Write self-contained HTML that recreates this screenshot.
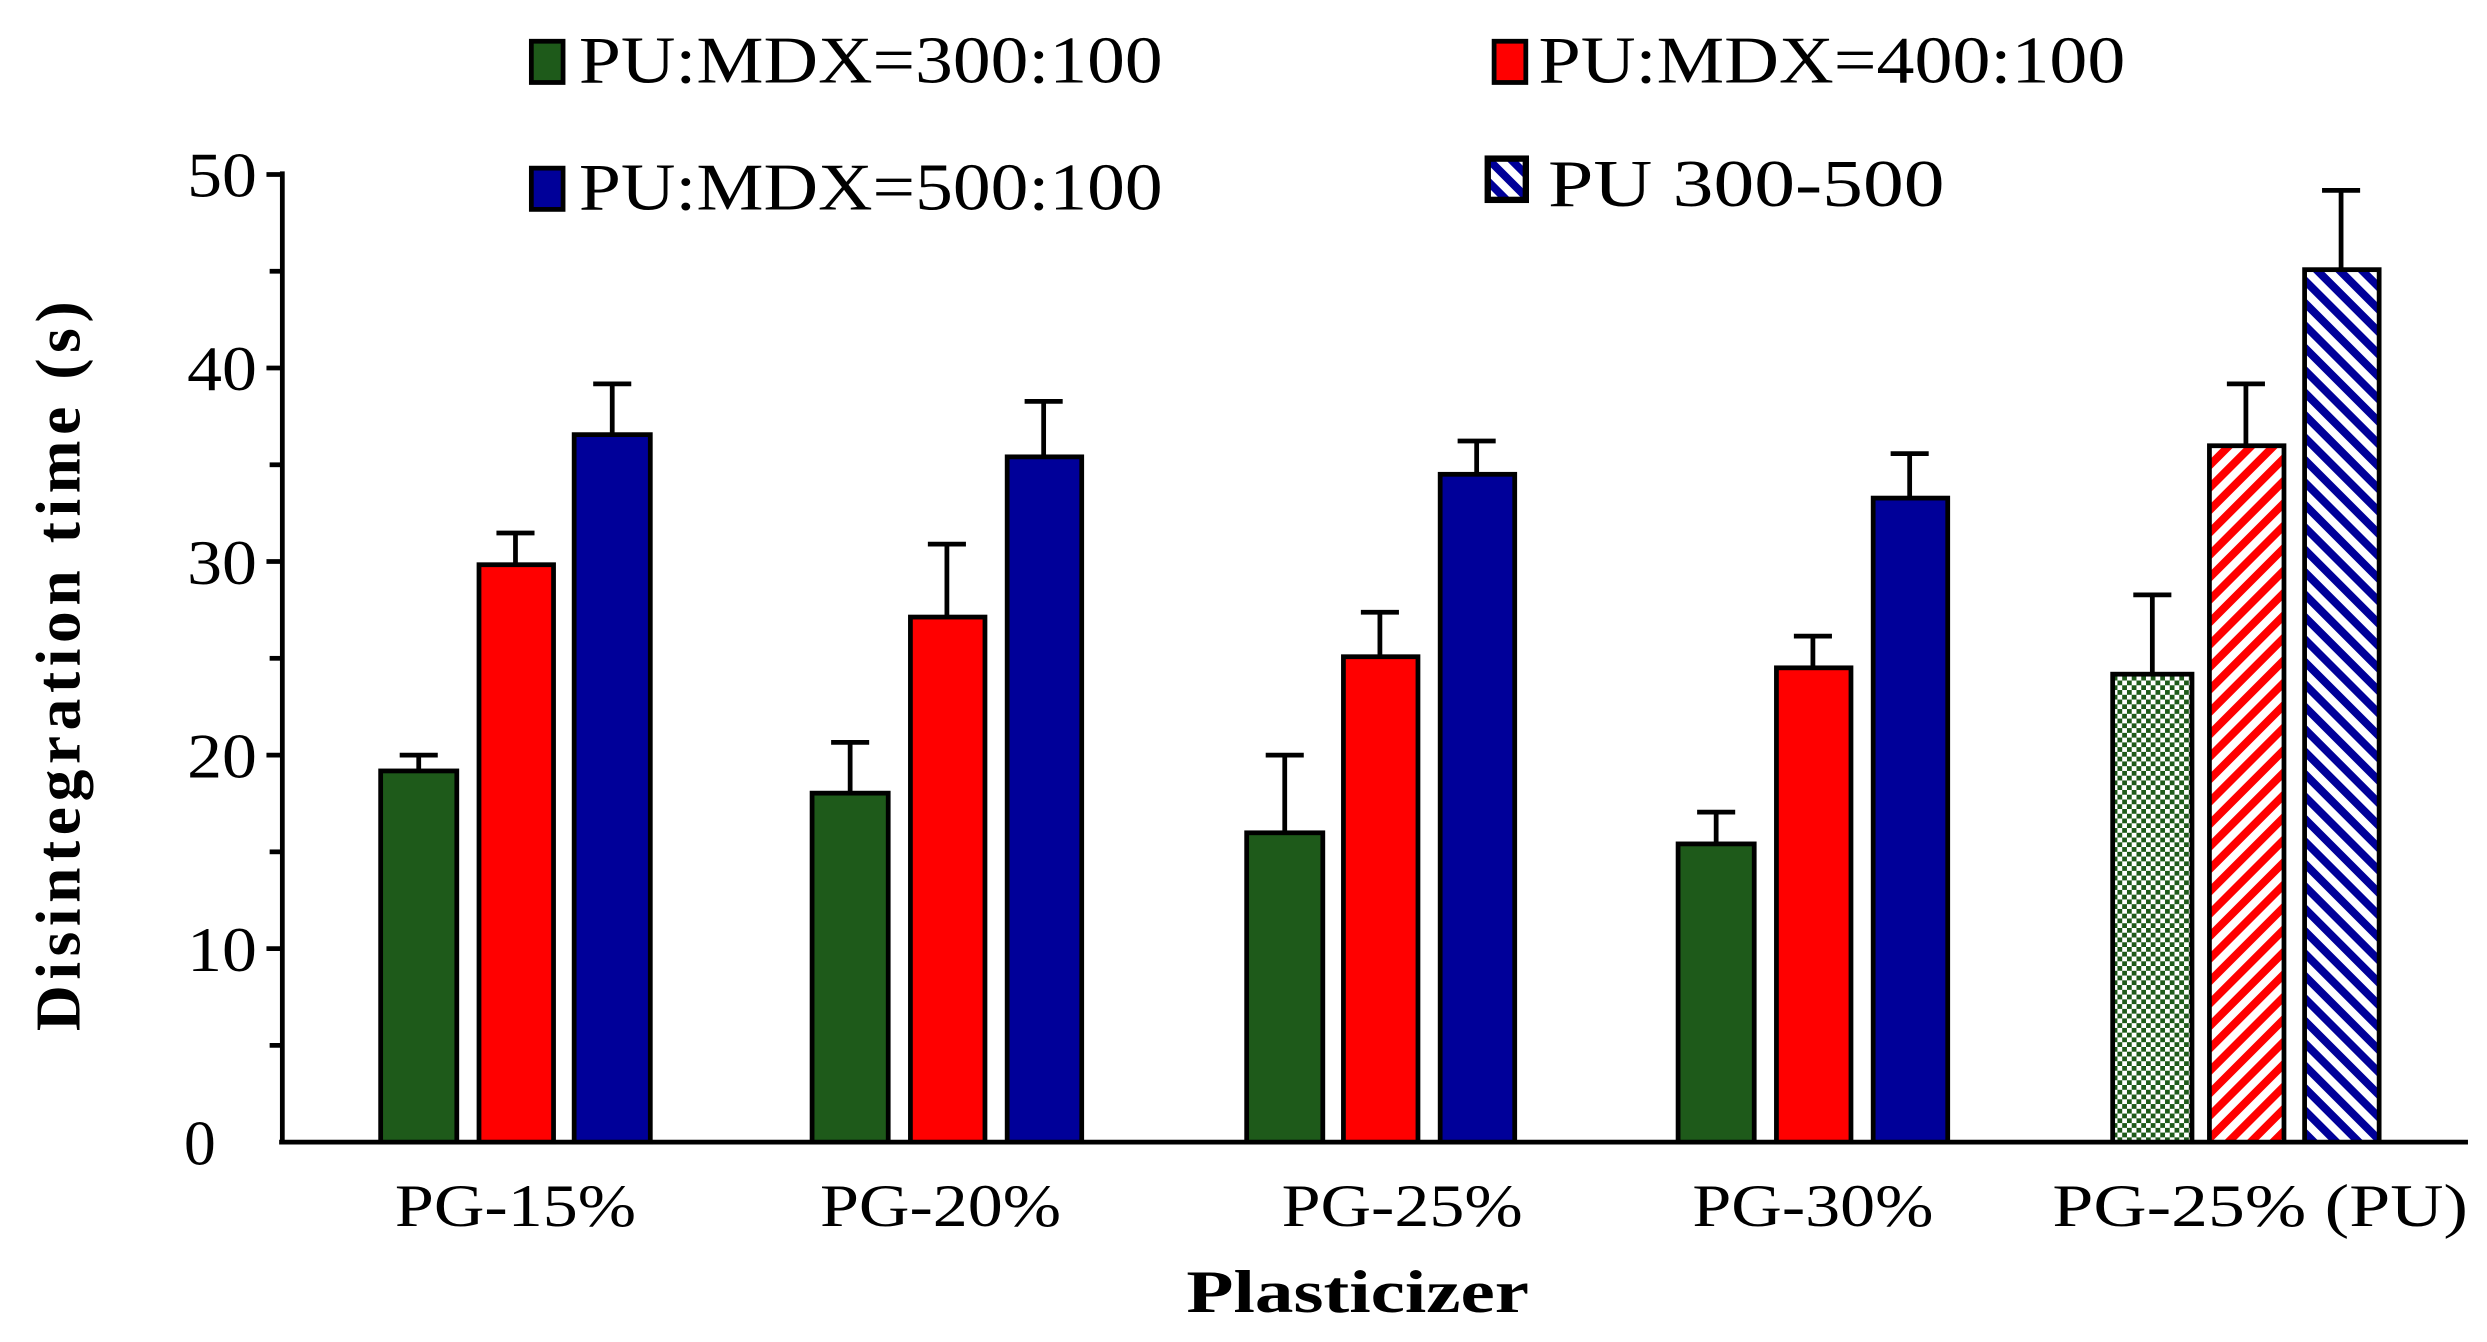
<!DOCTYPE html>
<html><head><meta charset="utf-8"><style>
html,body{margin:0;padding:0;background:#fff;}
svg{display:block;}
text{font-family:"Liberation Serif",serif;fill:#000;}
</style></head><body>
<svg width="2487" height="1342" viewBox="0 0 1568 846" preserveAspectRatio="none" xmlns="http://www.w3.org/2000/svg">
<defs>
<pattern id="pg" width="6" height="6" patternUnits="userSpaceOnUse">
<rect width="6" height="6" fill="#fff"/><rect width="3" height="3" fill="#1e5a1a"/><rect x="3" y="3" width="3" height="3" fill="#1e5a1a"/>
</pattern>
<pattern id="pr" width="10" height="10" patternUnits="userSpaceOnUse" patternTransform="rotate(45)">
<rect width="10" height="10" fill="#fff"/><rect width="5" height="10" fill="#ff0000"/>
</pattern>
<pattern id="pb" width="10" height="10" patternUnits="userSpaceOnUse" patternTransform="rotate(-45)">
<rect width="10" height="10" fill="#fff"/><rect width="5" height="10" fill="#000099"/>
</pattern>
</defs>
<g stroke="#000" stroke-width="3" fill="none">
<line x1="178" y1="108" x2="178" y2="721"/>
<line x1="176" y1="720" x2="1556" y2="720"/>
<line x1="168" y1="110" x2="178" y2="110"/>
<line x1="168" y1="232" x2="178" y2="232"/>
<line x1="168" y1="354" x2="178" y2="354"/>
<line x1="168" y1="476" x2="178" y2="476"/>
<line x1="168" y1="598" x2="178" y2="598"/>
<line x1="170" y1="171" x2="178" y2="171"/>
<line x1="170" y1="293" x2="178" y2="293"/>
<line x1="170" y1="415" x2="178" y2="415"/>
<line x1="170" y1="537" x2="178" y2="537"/>
<line x1="170" y1="659" x2="178" y2="659"/>
</g>
<g font-size="40" text-anchor="end">
<text x="162" y="124" textLength="44" lengthAdjust="spacingAndGlyphs">50</text>
<text x="162" y="246" textLength="44" lengthAdjust="spacingAndGlyphs">40</text>
<text x="162" y="368" textLength="44" lengthAdjust="spacingAndGlyphs">30</text>
<text x="162" y="490" textLength="44" lengthAdjust="spacingAndGlyphs">20</text>
<text x="162" y="612" textLength="44" lengthAdjust="spacingAndGlyphs">10</text>
<text x="136" y="734">0</text>
</g>
<text transform="translate(50,420) rotate(-90)" font-size="40" font-weight="bold" text-anchor="middle" textLength="460" lengthAdjust="spacing">Disintegration  time  (s)</text>
<g stroke="#000" stroke-width="3">
<rect x="240" y="486" width="48" height="234" fill="#1e5a1a"/>
<rect x="302" y="356" width="47" height="364" fill="#ff0000"/>
<rect x="362" y="274" width="48" height="446" fill="#000099"/>
<rect x="512" y="500" width="48" height="220" fill="#1e5a1a"/>
<rect x="574" y="389" width="47" height="331" fill="#ff0000"/>
<rect x="635" y="288" width="47" height="432" fill="#000099"/>
<rect x="786" y="525" width="48" height="195" fill="#1e5a1a"/>
<rect x="847" y="414" width="47" height="306" fill="#ff0000"/>
<rect x="908" y="299" width="47" height="421" fill="#000099"/>
<rect x="1058" y="532" width="48" height="188" fill="#1e5a1a"/>
<rect x="1120" y="421" width="47" height="299" fill="#ff0000"/>
<rect x="1181" y="314" width="47" height="406" fill="#000099"/>
<rect x="1332" y="425" width="50" height="295" fill="url(#pg)"/>
<rect x="1393" y="281" width="47" height="439" fill="url(#pr)"/>
<rect x="1453" y="170" width="47" height="550" fill="url(#pb)"/>
</g>
<g stroke="#000" stroke-width="3" fill="none">
<path d="M264 486V476M252 476H276"/>
<path d="M325 356V336M313 336H337"/>
<path d="M386 274V242M374 242H398"/>
<path d="M536 500V468M524 468H548"/>
<path d="M597 389V343M585 343H609"/>
<path d="M658 288V253M646 253H670"/>
<path d="M810 525V476M798 476H822"/>
<path d="M870 414V386M858 386H882"/>
<path d="M931 299V278M919 278H943"/>
<path d="M1082 532V512M1070 512H1094"/>
<path d="M1143 421V401M1131 401H1155"/>
<path d="M1204 314V286M1192 286H1216"/>
<path d="M1357 425V375M1345 375H1369"/>
<path d="M1416 281V242M1404 242H1428"/>
<path d="M1476 170V120M1464 120H1488"/>
</g>
<g font-size="38" text-anchor="middle">
<text x="325" y="773" textLength="152" lengthAdjust="spacingAndGlyphs">PG-15%</text>
<text x="593" y="773" textLength="152" lengthAdjust="spacingAndGlyphs">PG-20%</text>
<text x="884" y="773" textLength="152" lengthAdjust="spacingAndGlyphs">PG-25%</text>
<text x="1143" y="773" textLength="152" lengthAdjust="spacingAndGlyphs">PG-30%</text>
<text x="1425" y="773" textLength="262" lengthAdjust="spacingAndGlyphs">PG-25%  (PU)</text>
</g>
<text x="856" y="827" font-size="38" font-weight="bold" text-anchor="middle" textLength="216" lengthAdjust="spacingAndGlyphs">Plasticizer</text>
<g stroke="#000" stroke-width="3">
<rect x="335" y="26" width="20" height="26" fill="#1e5a1a"/>
<rect x="942" y="26" width="20" height="26" fill="#ff0000"/>
<rect x="335" y="106" width="20" height="26" fill="#000099"/>
<rect x="938" y="100" width="24" height="26" fill="url(#pb)" stroke-width="4"/>
</g>
<g font-size="42">
<text x="365" y="52" textLength="368" lengthAdjust="spacingAndGlyphs">PU:MDX=300:100</text>
<text x="970" y="52" textLength="370" lengthAdjust="spacingAndGlyphs">PU:MDX=400:100</text>
<text x="365" y="132" textLength="368" lengthAdjust="spacingAndGlyphs">PU:MDX=500:100</text>
<text x="976" y="130" textLength="250" lengthAdjust="spacingAndGlyphs">PU 300-500</text>
</g>
</svg>
</body></html>
